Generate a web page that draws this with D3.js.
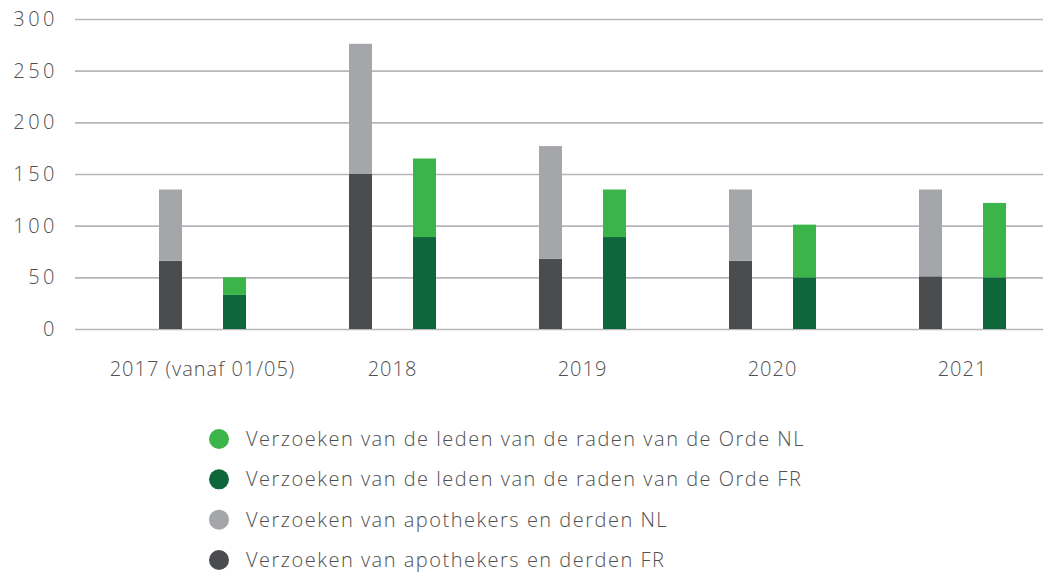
<!DOCTYPE html>
<html><head><meta charset="utf-8">
<script src="https://cdn.jsdelivr.net/npm/d3@7"></script>
<style>
body{margin:0;background:#fff;}
text{font-family:"Open Sans",Lato,sans-serif;font-weight:300;fill:#505050;}
</style></head>
<body><svg id="c" width="1043" height="573"></svg>
<script>
const categories = ["2017 (vanaf 01/05)", "2018", "2019", "2020", "2021"];
const apothekersFR = [66, 150, 68, 66, 51];
const apothekersNL = [69, 126, 109, 69, 84];
const ordeFR = [33, 89, 89, 50, 50];
const ordeNL = [17, 76, 46, 51, 72];
const yTicks = [0, 50, 100, 150, 200, 250, 300];
const legendLabels = [
  "Verzoeken van de leden van de raden van de Orde NL",
  "Verzoeken van de leden van de raden van de Orde FR",
  "Verzoeken van apothekers en derden NL",
  "Verzoeken van apothekers en derden FR"
];
const colors = {ordeNL:"#3bb54a", ordeFR:"#0e673a", apoNL:"#a5a6a9", apoFR:"#4b4c4e"};

(function(){
const FONT = "'Open Sans',Lato,sans-serif";
const svg = d3.select("#c");
const mLeft = 75, mRight = 1043, mTop = 19, mBottom = 329;
const y = d3.scaleLinear().domain([0, 300]).range([mBottom, mTop]);
const x = d3.scaleBand().domain(categories).range([107.5, 1057.5]).paddingInner(0).paddingOuter(0);
const barW = 23;
const subCenter = k => x.bandwidth()/2 + (k === "apo" ? -32 : 32);

const yAxis = d3.axisLeft(y).tickValues(yTicks).tickSize(-(mRight-mLeft)).tickPadding(17);
const g = svg.append("g").attr("transform", `translate(${mLeft},0)`).call(yAxis);
g.select(".domain").remove();
g.selectAll(".tick line").attr("stroke", "#b6b6b8").attr("stroke-width", 1.6);
g.selectAll(".tick text").attr("font-size", 20).attr("font-family", FONT).attr("fill", "#505050").attr("font-weight",300).attr("letter-spacing", 3.5);

const data = categories.map((c, i) => ({c,
  stacks: [
    {k:"apo", parts:[{v0:0, v1:apothekersFR[i], col:colors.apoFR},{v0:apothekersFR[i], v1:apothekersFR[i]+apothekersNL[i], col:colors.apoNL}]},
    {k:"orde", parts:[{v0:0, v1:ordeFR[i], col:colors.ordeFR},{v0:ordeFR[i], v1:ordeFR[i]+ordeNL[i], col:colors.ordeNL}]}
  ]}));

const grp = svg.selectAll("g.grp").data(data).join("g").attr("class","grp")
  .attr("transform", d => `translate(${x(d.c)},0)`);
grp.selectAll("g.st").data(d => d.stacks).join("g").attr("class","st")
  .each(function(s){
    d3.select(this).selectAll("rect").data(s.parts).join("rect")
      .attr("x", subCenter(s.k) - barW/2)
      .attr("width", barW)
      .attr("y", p => y(p.v1))
      .attr("height", p => y(p.v0) - y(p.v1))
      .attr("fill", p => p.col);
  });

const xAxis = d3.axisBottom(x).tickSize(0).tickPadding(0);
const xa = svg.append("g").attr("transform", `translate(0,${mBottom+47})`).call(xAxis);
xa.select(".domain").remove();
xa.selectAll(".tick text").attr("font-size", 20).attr("dy", 0).attr("font-family", FONT).attr("fill", "#505050").attr("font-weight",300).attr("letter-spacing", 1);

const legCols = [colors.ordeNL, colors.ordeFR, colors.apoNL, colors.apoFR];
const leg = svg.append("g");
const ly = d3.scalePoint().domain(legendLabels).range([439, 560]);
legendLabels.forEach((t, i) => {
  leg.append("circle").attr("cx", 219).attr("cy", ly(t)).attr("r", 10).attr("fill", legCols[i]);
  leg.append("text").attr("x", 246).attr("y", ly(t)).attr("dy", "0.35em").attr("font-size", 20)
    .attr("font-family", FONT).attr("letter-spacing", 1.5).text(t);
});
})();
</script></body></html>
